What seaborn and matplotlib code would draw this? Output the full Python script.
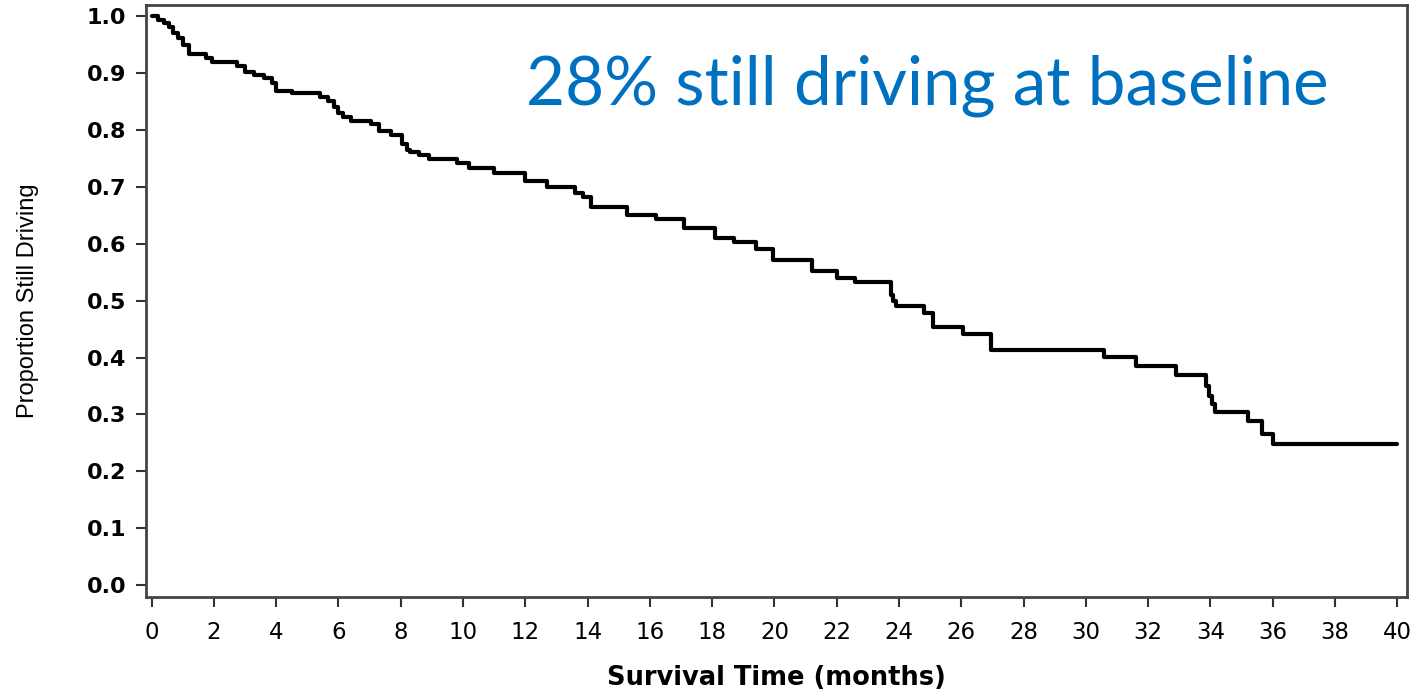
import seaborn as sns
import pandas as pd
import matplotlib.pyplot as plt

# Kaplan-Meier estimate (step changes, post)
months = [0, 0.2, 0.4, 0.55, 0.7, 0.85, 1.0, 1.2, 1.75, 1.95, 2.75, 3.0,
          3.3, 3.6, 3.85, 4.0, 4.5, 5.4, 5.65, 5.85, 6.0, 6.15, 6.4, 7.05,
          7.3, 7.7, 8.05, 8.2, 8.3, 8.6, 8.9, 9.8, 10.2, 11.0, 12.0, 12.7,
          13.6, 13.85, 14.1, 15.25, 16.2, 17.1, 18.1, 18.7, 19.4, 19.95,
          21.2, 22.0, 22.6, 23.75, 23.82, 23.9, 24.8, 25.1, 26.05, 26.95,
          30.6, 31.6, 32.9, 33.85, 33.95, 34.05, 34.15, 35.2, 35.65, 36.0,
          40.0]
still_driving = [1.0, 0.993, 0.987, 0.98, 0.97, 0.96, 0.948, 0.932, 0.925,
                 0.918, 0.912, 0.902, 0.896, 0.89, 0.882, 0.868, 0.864,
                 0.858, 0.85, 0.84, 0.83, 0.822, 0.816, 0.81, 0.797, 0.79,
                 0.775, 0.765, 0.76, 0.755, 0.749, 0.741, 0.733, 0.724,
                 0.709, 0.70, 0.688, 0.681, 0.665, 0.651, 0.643, 0.627,
                 0.609, 0.603, 0.59, 0.572, 0.551, 0.54, 0.533, 0.51, 0.5,
                 0.49, 0.478, 0.453, 0.441, 0.414, 0.401, 0.385, 0.37, 0.35,
                 0.332, 0.318, 0.305, 0.288, 0.265, 0.249, 0.249]
x_ticks = list(range(0, 41, 2))
y_ticks = [i / 10 for i in range(0, 11)]

sns.set_style('white')
plt.rcParams['font.family'] = ['DejaVu Sans']

df = pd.DataFrame({'month': months, 'prop': still_driving})

fig = plt.figure(figsize=(14.15, 6.97), dpi=100)
ax = fig.add_axes([0.103, 0.143, 0.891, 0.850])
sns.lineplot(data=df, x='month', y='prop', drawstyle='steps-post',
             estimator=None, color='black', linewidth=3, ax=ax)

ax.set_xlim(-0.19, 40.3)
ax.set_ylim(-0.021, 1.019)
ax.set_xticks(x_ticks)
ax.set_xticklabels([str(t) for t in x_ticks], fontsize=16.5, color='black')
ax.set_yticks(y_ticks)
ax.set_yticklabels([f'{t:.1f}' for t in y_ticks], fontsize=16,
                   fontweight='bold', color='black')
ax.tick_params(axis='x', pad=10)
ax.tick_params(axis='both', direction='out', length=7, width=1.5,
               color='#333333', left=True, bottom=True)
ax.tick_params(axis='y', pad=7)
for s in ax.spines.values():
    s.set_color('#444444')
    s.set_linewidth(2)

ax.set_xlabel('Survival Time (months)', fontsize=18.5, fontweight='bold',
              labelpad=15, color='black')
ax.set_ylabel('Proportion Still Driving', fontsize=17, color='black',
              family=['Liberation Sans Narrow', 'Liberation Sans'],
              labelpad=34)

ax.text(0.302, 0.864, '28% still driving at baseline', transform=ax.transAxes,
        fontsize=48.5, color='#0070C0', family=['Lato', 'DejaVu Sans'],
        va='center', ha='left')

fig.savefig('out.png', dpi=100)
